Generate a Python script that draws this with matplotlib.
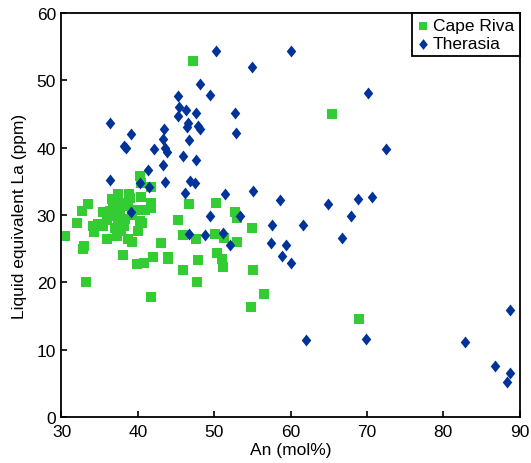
import matplotlib
matplotlib.use("Agg")
import matplotlib.pyplot as plt
import numpy as np

plt.rcParams['font.family'] = ['Liberation Sans', 'DejaVu Sans']

# Cape Riva plagioclase: An content vs liquid-equivalent La
cape_an = [47.2, 65.4, 68.95, 40.25, 40.35, 41.75, 37.4, 38.9, 33.45, 32.75,
           36.7, 37.85, 40.45, 41.75, 41.75, 40.05, 40.9, 35.4, 36.3, 36.7,
           37.4, 38.3, 32.05, 34.1, 34.75, 35.4, 34.3, 37.0, 37.85, 40.25,
           40.55, 40.05, 37.3, 35.9, 38.65, 39.25, 30.4, 32.95, 32.8, 38.05,
           39.85, 40.8, 41.95, 43.1, 43.9, 43.9, 45.3, 46.7, 50.2, 45.9,
           47.65, 50.1, 51.3, 52.75, 52.95, 52.95, 54.95, 50.4, 51.0, 51.2,
           47.85, 45.9, 55.15, 33.15, 47.75, 56.5, 41.75, 54.85,
           36.6, 37.1, 37.7, 38.7, 39.3, 38.2, 37.5, 36.0, 39.0]
cape_la = [52.8, 45.0, 14.5, 35.8, 34.8, 34.1, 33.1, 33.1, 31.6, 30.6,
           31.8, 31.8, 32.6, 31.8, 31.1, 30.8, 30.8, 30.4, 30.6, 29.9,
           29.6, 29.4, 28.8, 28.4, 28.6, 28.3, 27.4, 28.1, 27.6, 29.1,
           28.8, 27.6, 26.9, 26.5, 26.5, 26.0, 26.8, 25.4, 24.9, 24.0,
           22.7, 22.9, 23.8, 25.8, 23.8, 23.5, 29.2, 31.6, 31.8, 27.0,
           26.5, 27.1, 26.6, 30.4, 29.5, 26.0, 28.1, 24.3, 23.5, 22.2,
           23.3, 21.8, 21.8, 20.0, 20.0, 18.3, 17.8, 16.3,
           32.4, 31.1, 30.3, 31.4, 30.0, 28.4, 28.9, 29.2, 32.5]

# Therasia plagioclase
ther_an = [50.3, 60.0, 55.0, 48.1, 45.25, 49.4, 45.4, 46.3, 45.3, 47.6,
           52.7, 46.6, 46.4, 47.85, 48.1, 52.85, 43.4, 43.3, 46.7, 42.1,
           43.5, 43.8, 45.9, 47.6, 43.3, 36.3, 39.15, 38.2, 38.4, 41.35,
           36.3, 40.25, 41.45, 43.6, 46.8, 47.5, 46.15, 51.45, 55.05, 58.65,
           70.15, 72.45, 64.9, 68.85, 70.65, 61.6, 67.9, 66.7, 59.45, 58.9,
           60.1, 88.7, 62.05, 69.85, 82.9, 86.85, 88.8, 88.4, 39.15, 49.4,
           53.4, 57.6, 46.7, 48.85, 51.15, 52.1, 57.4]
ther_la = [54.4, 54.3, 52.0, 49.5, 47.7, 47.8, 46.1, 45.6, 44.7, 45.1,
           45.2, 43.7, 43.0, 43.2, 42.7, 42.2, 42.7, 41.3, 41.2, 39.8,
           39.9, 39.3, 38.7, 38.1, 37.4, 43.6, 42.0, 40.3, 40.0, 36.7,
           35.2, 34.8, 34.2, 34.9, 35.0, 34.8, 33.3, 33.1, 33.5, 32.2,
           48.1, 39.8, 31.6, 32.3, 32.7, 28.5, 29.9, 26.6, 25.6, 23.9,
           22.8, 15.9, 11.4, 11.5, 11.1, 7.5, 6.5, 5.2, 30.4, 29.9,
           29.9, 28.5, 27.1, 27.0, 27.3, 25.5, 25.8]

green = "#33cc33"
blue = "#003399"
diamond = [(0, 1), (0.8, 0), (0, -1), (-0.8, 0), (0, 1)]

fig = plt.figure(figsize=(5.31, 4.64), dpi=100)
ax = fig.add_axes([0.1158, 0.0994, 0.8626, 0.8704])

ax.scatter(cape_an, cape_la, marker="s", s=44, color=green, linewidths=0,
           label="Cape Riva", zorder=2)
ax.scatter(ther_an, ther_la, marker=diamond, s=74, color=blue, linewidths=0,
           label="Therasia", zorder=3)

ax.set_xlim(30, 90)
ax.set_ylim(0, 60)
ax.set_xticks(np.arange(30, 91, 10))
ax.set_yticks(np.arange(0, 61, 10))
ax.tick_params(direction="in", length=4, width=1.2, labelsize=12.5,
               top=False, right=False)
ax.tick_params(axis="x", pad=5)
ax.tick_params(axis="y", pad=4)
for sp in ax.spines.values():
    sp.set_linewidth(1.3)

ax.set_xlabel("An (mol%)", fontsize=12.5, labelpad=2)
ax.set_ylabel("Liquid equivalent La (ppm)", fontsize=12.5, labelpad=7)

leg = ax.legend(loc="upper right", fontsize=12.5, borderaxespad=0,
                fancybox=False, framealpha=1, edgecolor="black",
                handlelength=0.6, handletextpad=0.3, borderpad=0.3,
                labelspacing=0.15, markerscale=0.9)
leg.get_frame().set_linewidth(1.3)

fig.savefig("out.png", dpi=100)
